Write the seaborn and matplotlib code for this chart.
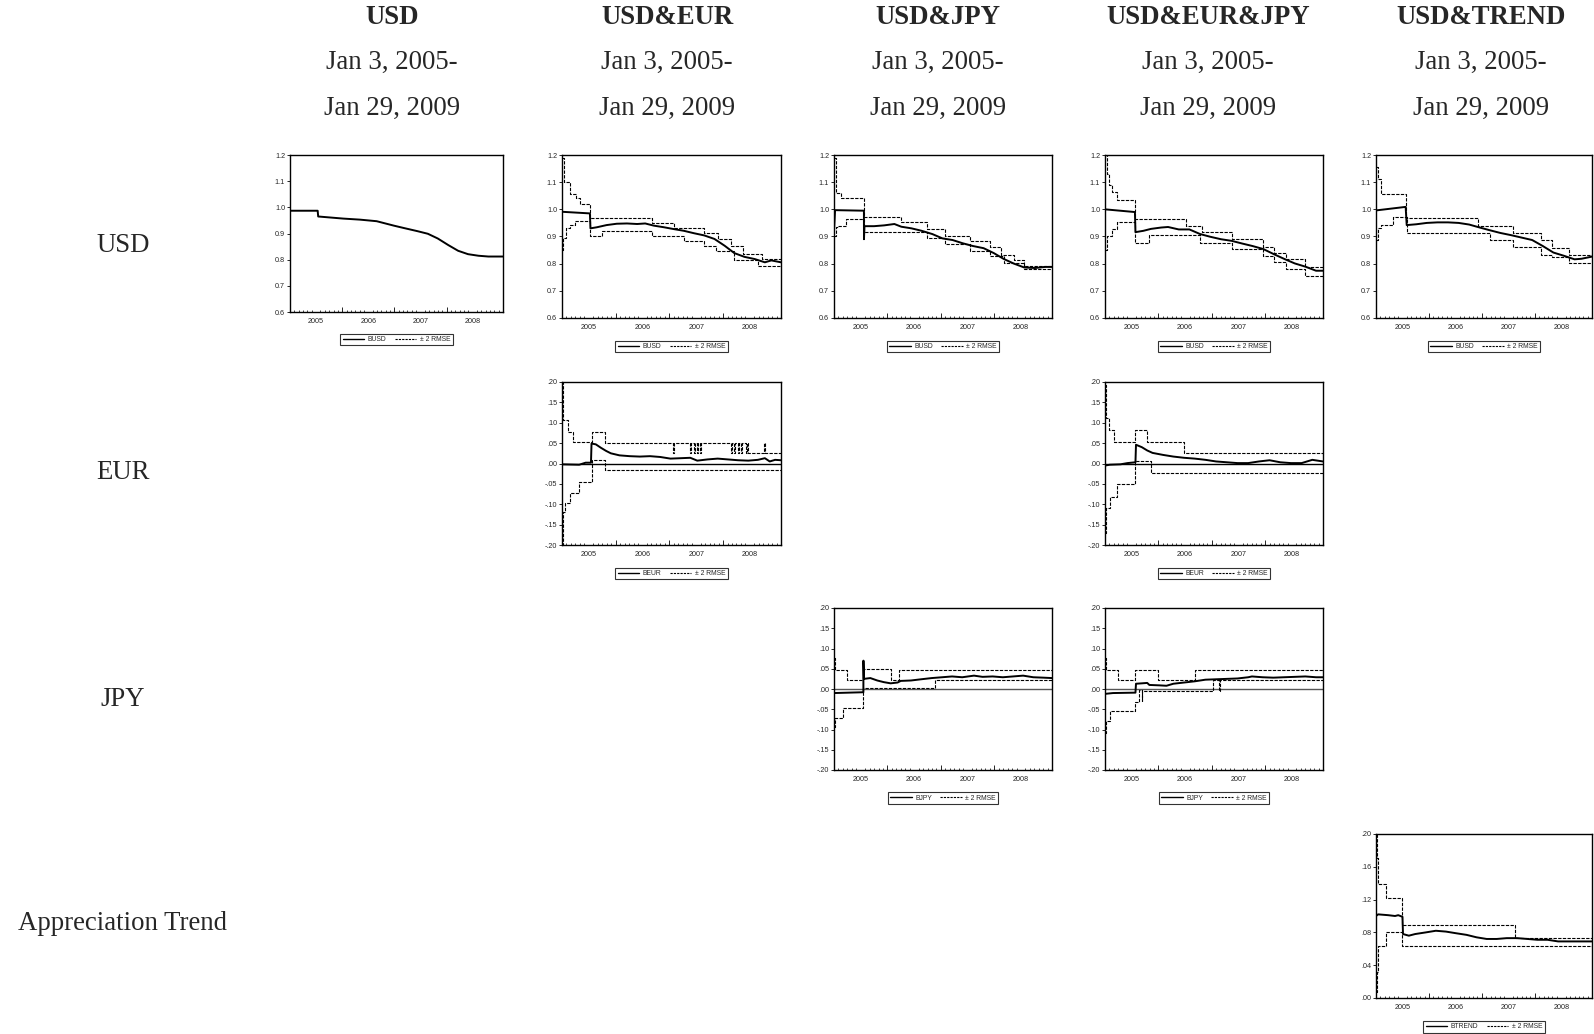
import numpy as np
import matplotlib
matplotlib.use("Agg")
import matplotlib.pyplot as plt
from matplotlib.lines import Line2D
import seaborn as sns

sns.set_style("white")
plt.rcParams["font.family"] = ["Liberation Sans", "DejaVu Sans"]

# column / row headings
col_titles = ["USD", "USD&EUR", "USD&JPY", "USD&EUR&JPY", "USD&TREND"]
period_1 = "Jan 3, 2005-"
period_2 = "Jan 29, 2009"
row_titles = ["USD", "EUR", "JPY", "Appreciation Trend"]
year_labels = ["2005", "2006", "2007", "2008"]
t_end = 2009.08

# ---- USD model ----
usd_busd_t = [2005.0, 2005.53, 2005.54, 2006.02, 2006.34, 2006.66, 2006.99, 2007.18, 2007.44,
              2007.64, 2007.83, 2008.03, 2008.22, 2008.41, 2008.61, 2008.80, 2009.08]
usd_busd = [0.987, 0.987, 0.965, 0.957, 0.953, 0.947, 0.930, 0.921, 0.909,
            0.899, 0.881, 0.856, 0.834, 0.821, 0.815, 0.812, 0.812]

# ---- USD&EUR model ----
ue_busd_t = [2005.0, 2005.52, 2005.53, 2005.65, 2005.83, 2006.02, 2006.21, 2006.40, 2006.55, 2006.71,
             2006.90, 2007.09, 2007.27, 2007.46, 2007.65, 2007.84, 2008.03, 2008.21, 2008.40,
             2008.59, 2008.78, 2008.90, 2009.08]
ue_busd = [0.991, 0.985, 0.930, 0.934, 0.942, 0.947, 0.948, 0.946, 0.948, 0.940,
           0.934, 0.927, 0.921, 0.912, 0.904, 0.891, 0.866, 0.839, 0.825,
           0.817, 0.805, 0.812, 0.805]
ue_busd_up_t = [2005.0, 2005.04, 2005.14, 2005.27, 2005.33, 2005.52, 2006.68, 2007.09, 2007.65,
                2007.90, 2008.15, 2008.37, 2008.72, 2009.08]
ue_busd_up = [1.19, 1.10, 1.058, 1.04, 1.021, 0.967, 0.949, 0.930, 0.912,
              0.890, 0.865, 0.835, 0.818, 0.818]
ue_busd_lo_t = [2005.0, 2005.02, 2005.08, 2005.14, 2005.24, 2005.52, 2005.74, 2006.68, 2007.27,
                2007.65, 2007.87, 2008.21, 2008.65, 2009.08]
ue_busd_lo = [0.85, 0.894, 0.93, 0.942, 0.958, 0.90, 0.922, 0.903, 0.885,
              0.866, 0.845, 0.815, 0.793, 0.793]

ue_beur_t = [2005.0, 2005.32, 2005.44, 2005.54, 2005.55, 2005.63, 2005.72, 2005.82, 2005.91, 2006.07,
             2006.26, 2006.45, 2006.64, 2006.83, 2007.02, 2007.21, 2007.39, 2007.52, 2007.71,
             2007.90, 2008.09, 2008.28, 2008.47, 2008.65, 2008.78, 2008.87, 2008.97, 2009.08]
ue_beur = [-0.002, -0.003, 0.002, 0.002, 0.049, 0.047, 0.039, 0.031, 0.025, 0.020,
           0.018, 0.017, 0.018, 0.016, 0.012, 0.013, 0.014, 0.007, 0.010,
           0.012, 0.010, 0.008, 0.007, 0.009, 0.013, 0.005, 0.009, 0.008]
ue_beur_up_t = [2005.0, 2005.02, 2005.11, 2005.21, 2005.55, 2005.80, 2007.07, 2007.09, 2007.38,
                2007.40, 2007.45, 2007.47, 2007.51, 2007.53, 2007.57, 2007.59, 2008.14, 2008.16,
                2008.20, 2008.22, 2008.27, 2008.29, 2008.33, 2008.35, 2008.42, 2008.44, 2008.47,
                2008.77, 2008.79, 2009.08]
ue_beur_up = [0.20, 0.106, 0.078, 0.053, 0.078, 0.051, 0.025, 0.051, 0.025,
              0.051, 0.025, 0.051, 0.025, 0.051, 0.025, 0.051, 0.025, 0.051,
              0.025, 0.051, 0.025, 0.051, 0.025, 0.051, 0.025, 0.051, 0.025,
              0.051, 0.025, 0.025]
ue_beur_lo_t = [2005.0, 2005.02, 2005.06, 2005.14, 2005.32, 2005.55, 2005.80, 2009.08]
ue_beur_lo = [-0.20, -0.12, -0.098, -0.072, -0.046, 0.008, -0.017, -0.017]

# ---- USD&JPY model ----
uj_busd_t = [2005.0, 2005.02, 2005.56, 2005.561, 2005.57, 2005.75, 2005.94, 2006.13, 2006.26, 2006.45,
             2006.64, 2006.84, 2007.03, 2007.22, 2007.41, 2007.60, 2007.80, 2007.99, 2008.18,
             2008.37, 2008.56, 2008.76, 2008.95, 2009.08]
uj_busd = [0.92, 0.997, 0.995, 0.89, 0.938, 0.938, 0.941, 0.946, 0.936, 0.930,
           0.921, 0.909, 0.893, 0.887, 0.875, 0.865, 0.857, 0.839, 0.817,
           0.800, 0.786, 0.784, 0.788, 0.788]
uj_busd_up_t = [2005.0, 2005.03, 2005.04, 2005.14, 2005.56, 2006.25, 2006.74, 2007.08, 2007.55,
                2007.92, 2008.12, 2008.37, 2008.55, 2009.08]
uj_busd_up = [1.19, 1.08, 1.06, 1.04, 0.972, 0.952, 0.926, 0.903, 0.884,
              0.860, 0.833, 0.812, 0.792, 0.792]
uj_busd_lo_t = [2005.0, 2005.03, 2005.08, 2005.22, 2005.56, 2006.74, 2007.08, 2007.55, 2007.92,
                2008.18, 2008.55, 2009.08]
uj_busd_lo = [0.90, 0.934, 0.938, 0.963, 0.918, 0.893, 0.873, 0.848, 0.829,
              0.804, 0.780, 0.780]

uj_bjpy_t = [2005.0, 2005.55, 2005.551, 2005.56, 2005.68, 2005.81, 2005.93, 2006.06, 2006.19, 2006.25,
             2006.44, 2006.63, 2006.83, 2007.02, 2007.21, 2007.40, 2007.62, 2007.78, 2007.97,
             2008.16, 2008.35, 2008.54, 2008.73, 2008.92, 2009.08]
uj_bjpy = [-0.010, -0.008, 0.070, 0.025, 0.027, 0.021, 0.017, 0.014, 0.016, 0.020,
           0.021, 0.024, 0.027, 0.029, 0.031, 0.029, 0.033, 0.030, 0.031,
           0.029, 0.031, 0.033, 0.029, 0.028, 0.027]
uj_bjpy_up_t = [2005.0, 2005.02, 2005.24, 2005.55, 2006.06, 2006.22, 2009.08]
uj_bjpy_up = [0.076, 0.048, 0.023, 0.049, 0.023, 0.048, 0.048]
uj_bjpy_lo_t = [2005.0, 2005.02, 2005.17, 2005.55, 2006.89, 2009.08]
uj_bjpy_lo = [-0.093, -0.072, -0.047, 0.002, 0.021, 0.021]

# ---- USD&EUR&JPY model ----
uej_busd_t = [2005.0, 2005.56, 2005.57, 2005.72, 2005.86, 2006.05, 2006.18, 2006.38, 2006.58, 2006.78,
              2006.97, 2007.17, 2007.37, 2007.57, 2007.76, 2007.96, 2008.16, 2008.36, 2008.55,
              2008.75, 2008.95, 2009.08]
uej_busd = [1.0, 0.99, 0.916, 0.921, 0.928, 0.933, 0.935, 0.926, 0.926, 0.909,
            0.899, 0.890, 0.884, 0.874, 0.865, 0.854, 0.835, 0.817, 0.801,
            0.789, 0.774, 0.774]
uej_busd_up_t = [2005.0, 2005.03, 2005.07, 2005.13, 2005.23, 2005.56, 2006.51, 2006.81, 2007.37,
                 2007.96, 2008.17, 2008.39, 2008.75, 2009.08]
uej_busd_up = [1.2, 1.13, 1.09, 1.063, 1.035, 0.963, 0.938, 0.915, 0.889,
               0.862, 0.840, 0.816, 0.789, 0.789]
uej_busd_lo_t = [2005.0, 2005.03, 2005.13, 2005.23, 2005.56, 2005.82, 2006.78, 2007.37, 2007.96,
                 2008.17, 2008.39, 2008.75, 2009.08]
uej_busd_lo = [0.85, 0.902, 0.929, 0.954, 0.877, 0.905, 0.877, 0.854, 0.829,
               0.805, 0.779, 0.755, 0.755]

uej_beur_t = [2005.0, 2005.09, 2005.29, 2005.42, 2005.57, 2005.58, 2005.69, 2005.79, 2005.89, 2006.09,
              2006.28, 2006.48, 2006.68, 2006.88, 2007.08, 2007.28, 2007.48, 2007.68, 2007.88,
              2008.08, 2008.28, 2008.48, 2008.68, 2008.88, 2009.08]
uej_beur = [-0.005, -0.003, -0.002, 0.001, 0.003, 0.046, 0.040, 0.032, 0.026, 0.021,
            0.017, 0.014, 0.012, 0.009, 0.005, 0.003, 0.001, 0.001, 0.005,
            0.008, 0.003, 0.001, 0.001, 0.009, 0.005]
uej_beur_up_t = [2005.0, 2005.02, 2005.07, 2005.17, 2005.57, 2005.79, 2006.47, 2009.08]
uej_beur_up = [0.192, 0.112, 0.083, 0.052, 0.083, 0.052, 0.025, 0.025]
uej_beur_lo_t = [2005.0, 2005.02, 2005.09, 2005.22, 2005.57, 2005.87, 2009.08]
uej_beur_lo = [-0.17, -0.11, -0.082, -0.05, 0.007, -0.023, -0.023]

uej_bjpy_t = [2005.0, 2005.15, 2005.57, 2005.58, 2005.69, 2005.79, 2005.83, 2006.02, 2006.15, 2006.28,
              2006.48, 2006.68, 2006.88, 2007.08, 2007.28, 2007.48, 2007.68, 2007.75, 2007.95,
              2008.15, 2008.35, 2008.55, 2008.75, 2008.95, 2009.08]
uej_bjpy = [-0.012, -0.010, -0.009, 0.013, 0.014, 0.015, 0.010, 0.009, 0.008, 0.013,
            0.016, 0.019, 0.023, 0.024, 0.025, 0.026, 0.029, 0.031, 0.029,
            0.028, 0.029, 0.030, 0.031, 0.029, 0.029]
uej_bjpy_up_t = [2005.0, 2005.02, 2005.25, 2005.57, 2006.0, 2006.68, 2009.08]
uej_bjpy_up = [0.076, 0.047, 0.023, 0.047, 0.023, 0.047, 0.047]
uej_bjpy_lo_t = [2005.0, 2005.02, 2005.09, 2005.57, 2005.63, 2005.69, 2005.70, 2007.02, 2007.14,
                 2007.16, 2009.08]
uej_bjpy_lo = [-0.109, -0.080, -0.054, -0.031, -0.002, -0.030, -0.005, 0.021, -0.005,
               0.021, 0.021]

# ---- USD&TREND model ----
ut_busd_t = [2005.0, 2005.56, 2005.58, 2005.76, 2005.96, 2006.16, 2006.36, 2006.56, 2006.76, 2006.96,
             2007.15, 2007.35, 2007.55, 2007.75, 2007.95, 2008.15, 2008.35, 2008.55, 2008.75,
             2008.88, 2009.08]
ut_busd = [0.996, 1.009, 0.942, 0.945, 0.950, 0.952, 0.952, 0.950, 0.944, 0.933,
           0.923, 0.913, 0.905, 0.896, 0.887, 0.865, 0.841, 0.829, 0.816,
           0.818, 0.826]
ut_busd_up_t = [2005.0, 2005.03, 2005.10, 2005.56, 2006.92, 2007.59, 2008.12, 2008.32, 2008.65, 2009.08]
ut_busd_up = [1.155, 1.11, 1.055, 0.968, 0.938, 0.912, 0.887, 0.856, 0.832, 0.832]
ut_busd_lo_t = [2005.0, 2005.03, 2005.10, 2005.33, 2005.58, 2007.15, 2007.59, 2008.12, 2008.32,
                2008.65, 2009.08]
ut_busd_lo = [0.887, 0.933, 0.942, 0.970, 0.913, 0.887, 0.860, 0.832, 0.826, 0.801, 0.801]

ut_btrend_t = [2005.0, 2005.04, 2005.23, 2005.36, 2005.42, 2005.50, 2005.51, 2005.62, 2005.74, 2005.94,
               2006.13, 2006.32, 2006.51, 2006.71, 2006.90, 2007.09, 2007.28, 2007.47, 2007.67,
               2007.86, 2008.05, 2008.24, 2008.44, 2008.69, 2009.08]
ut_btrend = [0.100, 0.102, 0.101, 0.100, 0.101, 0.099, 0.078, 0.076, 0.078, 0.080,
             0.082, 0.081, 0.079, 0.077, 0.074, 0.072, 0.072, 0.073, 0.073,
             0.072, 0.071, 0.071, 0.069, 0.069, 0.069]
ut_btrend_up_t = [2005.0, 2005.01, 2005.03, 2005.18, 2005.50, 2007.63, 2009.08]
ut_btrend_up = [0.199, 0.171, 0.139, 0.122, 0.089, 0.073, 0.073]
ut_btrend_lo_t = [2005.0, 2005.01, 2005.03, 2005.18, 2005.50, 2009.08]
ut_btrend_lo = [0.007, 0.032, 0.064, 0.081, 0.064, 0.064]

# y scales
busd_ticks = [0.6, 0.7, 0.8, 0.9, 1.0, 1.1, 1.2]
busd_ticklabels = ["0.6", "0.7", "0.8", "0.9", "1.0", "1.1", "1.2"]
small_ticks = [-0.20, -0.15, -0.10, -0.05, 0.00, 0.05, 0.10, 0.15, 0.20]
small_ticklabels = ["-.20", "-.15", "-.10", "-.05", ".00", ".05", ".10", ".15", ".20"]
trend_ticks = [0.00, 0.04, 0.08, 0.12, 0.16, 0.20]
trend_ticklabels = [".00", ".04", ".08", ".12", ".16", ".20"]

W, H = 1594, 1034
fig = plt.figure(figsize=(W / 100, H / 100), dpi=100)

band_style = (0, (3, 1.2))


def make_axes(x0, y0, x1, y1):
    return fig.add_axes([x0 / W, 1 - y1 / H, (x1 - x0) / W, (y1 - y0) / H])


def panel(ax, t, b, up_t, up, lo_t, lo, name, ticks, ticklabels, zero=None, leg_y=-0.175):
    if zero is not None:
        ax.axhline(0, color=zero, lw=1.0, zorder=1)
    if up_t is not None:
        sns.lineplot(x=up_t, y=up, ax=ax, color="black", lw=0.8, linestyle=band_style,
                     drawstyle="steps-post", estimator=None, sort=False)
        sns.lineplot(x=lo_t, y=lo, ax=ax, color="black", lw=0.8, linestyle=band_style,
                     drawstyle="steps-post", estimator=None, sort=False)
    sns.lineplot(x=t, y=b, ax=ax, color="black", lw=1.4, estimator=None, sort=False)

    ax.set_xlim(2005.0, t_end)
    ax.set_ylim(ticks[0], ticks[-1])
    ax.set_yticks(ticks)
    ax.set_yticklabels(ticklabels)
    ax.set_xticks([2005.5, 2006.5, 2007.5, 2008.5])
    ax.set_xticklabels(year_labels)
    ax.set_xticks(np.arange(2005.0, t_end, 1 / 12), minor=True)
    ax.tick_params(axis="x", which="major", length=0, labelsize=5.2, pad=4.5)
    ax.tick_params(axis="x", which="minor", direction="in", length=1.8, width=0.6, bottom=True)
    ax.tick_params(axis="y", which="major", direction="out", length=2.5, width=0.7,
                   labelsize=5.2, pad=1, left=True)
    sec = ax.secondary_xaxis("bottom")
    sec.set_xticks([2006, 2007, 2008])
    sec.tick_params(direction="in", length=3.5, width=0.7, labelbottom=False)
    sec.spines["bottom"].set_visible(False)
    ax.set_xlabel("")
    ax.set_ylabel("")
    for s in ax.spines.values():
        s.set_color("black")
        s.set_linewidth(1.0)
    handles = [Line2D([0], [0], color="black", lw=1.0),
               Line2D([0], [0], color="black", lw=0.8, linestyle=(0, (2, 1)))]
    leg = ax.legend(handles, [name, "\u00b1 2 RMSE"], loc="center",
                    bbox_to_anchor=(0.5, leg_y), ncol=2, fontsize=4.9, frameon=True,
                    fancybox=False, edgecolor="black", handlelength=3.2, columnspacing=1.2,
                    borderpad=0.35, handletextpad=0.5)
    leg.get_frame().set_linewidth(0.8)


# row 1: BUSD
ax = make_axes(290, 155, 503, 312)
panel(ax, usd_busd_t, usd_busd, None, None, None, None, "BUSD", busd_ticks, busd_ticklabels)
ax = make_axes(562, 155, 781, 318)
panel(ax, ue_busd_t, ue_busd, ue_busd_up_t, ue_busd_up, ue_busd_lo_t, ue_busd_lo, "BUSD",
      busd_ticks, busd_ticklabels)
ax = make_axes(834, 155, 1052, 318)
panel(ax, uj_busd_t, uj_busd, uj_busd_up_t, uj_busd_up, uj_busd_lo_t, uj_busd_lo, "BUSD",
      busd_ticks, busd_ticklabels)
ax = make_axes(1105, 155, 1323, 318)
panel(ax, uej_busd_t, uej_busd, uej_busd_up_t, uej_busd_up, uej_busd_lo_t, uej_busd_lo, "BUSD",
      busd_ticks, busd_ticklabels)
ax = make_axes(1376, 155, 1592, 318)
panel(ax, ut_busd_t, ut_busd, ut_busd_up_t, ut_busd_up, ut_busd_lo_t, ut_busd_lo, "BUSD",
      busd_ticks, busd_ticklabels)

# row 2: BEUR
ax = make_axes(562, 382, 781, 545)
panel(ax, ue_beur_t, ue_beur, ue_beur_up_t, ue_beur_up, ue_beur_lo_t, ue_beur_lo, "BEUR",
      small_ticks, small_ticklabels, zero="black")
ax = make_axes(1105, 382, 1323, 545)
panel(ax, uej_beur_t, uej_beur, uej_beur_up_t, uej_beur_up, uej_beur_lo_t, uej_beur_lo, "BEUR",
      small_ticks, small_ticklabels, zero="black")

# row 3: BJPY
ax = make_axes(834, 608, 1052, 770)
panel(ax, uj_bjpy_t, uj_bjpy, uj_bjpy_up_t, uj_bjpy_up, uj_bjpy_lo_t, uj_bjpy_lo, "BJPY",
      small_ticks, small_ticklabels, zero="#555555")
ax = make_axes(1105, 608, 1323, 770)
panel(ax, uej_bjpy_t, uej_bjpy, uej_bjpy_up_t, uej_bjpy_up, uej_bjpy_lo_t, uej_bjpy_lo, "BJPY",
      small_ticks, small_ticklabels, zero="#555555")

# row 4: BTREND
ax = make_axes(1376, 834, 1592, 998)
panel(ax, ut_btrend_t, ut_btrend, ut_btrend_up_t, ut_btrend_up, ut_btrend_lo_t, ut_btrend_lo,
      "BTREND", trend_ticks, trend_ticklabels)

# headings
serif = ["Liberation Serif", "DejaVu Serif"]
col_x = [392, 667, 938, 1208, 1481]
for cx, title in zip(col_x, col_titles):
    fig.text(cx / W, 1 - 17 / H, title, ha="center", va="center", fontsize=19.3,
             fontweight="bold", family=serif)
    fig.text(cx / W, 1 - 62 / H, period_1, ha="center", va="center", fontsize=19.3, family=serif)
    fig.text(cx / W, 1 - 108 / H, period_2, ha="center", va="center", fontsize=19.3, family=serif)

row_y = [245, 473, 699, 924]
for ry, title in zip(row_y, row_titles):
    fig.text(123 / W, 1 - ry / H, title, ha="center", va="center", fontsize=19.3, family=serif)

fig.savefig("out.png", dpi=100)
